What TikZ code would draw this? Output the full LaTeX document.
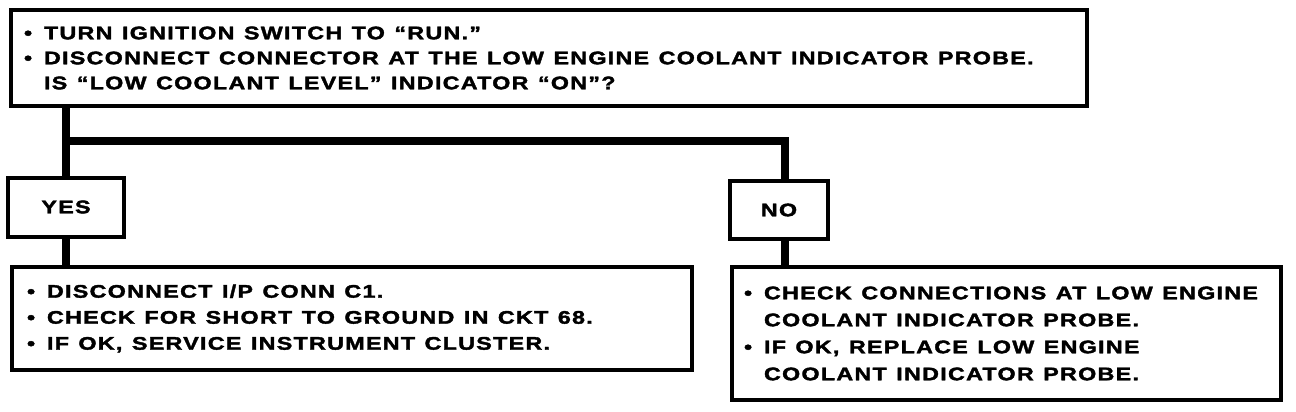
\documentclass[tikz,border=0pt]{standalone}
\usepackage{fontspec}
\newfontfamily\lbl{Liberation Sans}[FakeStretch=1.28,LetterSpace=7,BoldFeatures={FakeBold=2}]
\newcommand{\bul}{\makebox[20pt][l]{•}}
\newcommand{\ind}{\hspace*{20pt}}
\newcommand{\ws}{\spaceskip=9.5pt\relax\xspaceskip=9.5pt\relax}
\newcommand{\lblfont}[1]{\lbl\bfseries\fontsize{18.2}{#1}\selectfont}
\begin{document}
\begin{tikzpicture}[x=1pt,y=-1pt,
  box/.style={draw, line width=4pt, fill=white, align=left, inner ysep=0pt, font=\lblfont{26}},
  conn/.style={line width=8pt, line join=miter}]
\useasboundingbox (0,0) rectangle (1296,412);
\node[box, inner xsep=13pt, text width=1050pt, minimum height=96pt,
      font=\lblfont{25}] (top) at (549,58) {\ws
\bul TURN IGNITION SWITCH TO “RUN.”\\
\bul DISCONNECT CONNECTOR AT THE LOW ENGINE COOLANT INDICATOR PROBE.\\
\ind IS “LOW COOLANT LEVEL” INDICATOR “ON”?};
\node[box, align=center, minimum width=116pt, minimum height=59pt, inner xsep=0pt] (yes) at (66,207) {YES};
\node[box, align=center, minimum width=98pt, minimum height=58pt, inner xsep=0pt] (no) at (779,210) {NO};
\node[box, inner xsep=15pt, text width=650pt, minimum height=103pt] (ldet) at (352,318.5) {\ws
\bul DISCONNECT I/P CONN C1.\\
\bul CHECK FOR SHORT TO GROUND IN CKT 68.\\
\bul IF OK, SERVICE INSTRUMENT CLUSTER.};
\node[box, inner xsep=12pt, text width=525pt, minimum height=133pt,
      font=\lblfont{27}] (rdet) at (1006.5,333.5) {\ws
\bul CHECK CONNECTIONS AT LOW ENGINE\\
\ind COOLANT INDICATOR PROBE.\\
\bul IF OK, REPLACE LOW ENGINE\\
\ind COOLANT INDICATOR PROBE.};
\coordinate (j1) at (66,141);
\coordinate (j2) at (785,141);
\draw[conn] (top.south -| yes.north) -- (yes.north);
\draw[conn] (j1) -- (j2) -- (j2 |- no.north);
\draw[conn] (yes.south) -- (yes.south |- ldet.north);
\draw[conn] (no.south -| j2) -- (j2 |- rdet.north);
\end{tikzpicture}
\end{document}
